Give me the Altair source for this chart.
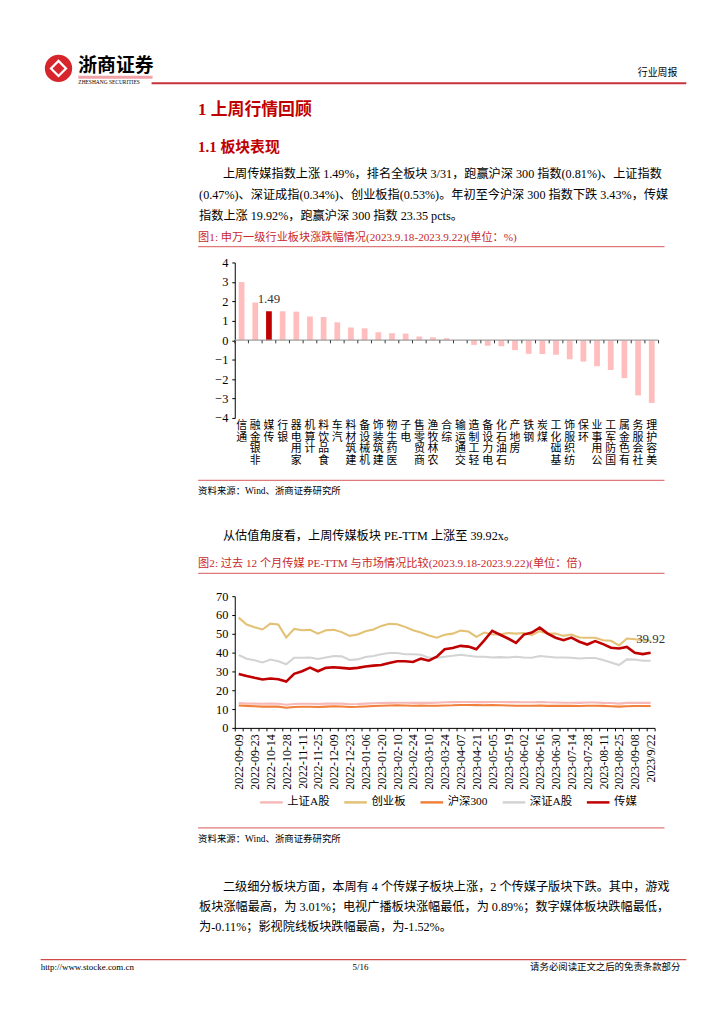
import altair as alt
import pandas as pd

# ------------------------------------------------------------------ data
bar_categories = ["通信", "非银金融", "传媒", "银行", "家用电器", "计算机", "食品饮料", "汽车",
                  "建筑材料", "机械设备", "建筑装饰", "医药生物", "电子", "商贸零售", "农林牧渔",
                  "综合", "交通运输", "轻工制造", "电力设备", "石油石化", "房地产", "钢铁", "煤炭",
                  "基础化工", "纺织服饰", "环保", "公用事业", "国防军工", "有色金属", "社会服务",
                  "美容护理"]
bar_values = [2.99, 1.94, 1.49, 1.49, 1.47, 1.22, 1.20, 0.92, 0.66, 0.61, 0.41, 0.36, 0.34,
              0.19, 0.15, 0.10, -0.01, -0.24, -0.29, -0.31, -0.51, -0.70, -0.71, -0.75, -0.98,
              -1.10, -1.34, -1.53, -1.95, -2.84, -3.23]
bar_highlight = "传媒"
bar_y_ticks = [-4, -3, -2, -1, 0, 1, 2, 3, 4]

dates = ["2022-09-09", "2022-09-16", "2022-09-23", "2022-09-30", "2022-10-14", "2022-10-21",
         "2022-10-28", "2022-11-04", "2022-11-11", "2022-11-18", "2022-11-25", "2022-12-02",
         "2022-12-09", "2022-12-16", "2022-12-23", "2022-12-30", "2023-01-06", "2023-01-13",
         "2023-01-20", "2023-02-03", "2023-02-10", "2023-02-17", "2023-02-24", "2023-03-03",
         "2023-03-10", "2023-03-17", "2023-03-24", "2023-03-31", "2023-04-07", "2023-04-14",
         "2023-04-21", "2023-04-28", "2023-05-05", "2023-05-12", "2023-05-19", "2023-05-26",
         "2023-06-02", "2023-06-09", "2023-06-16", "2023-06-21", "2023-06-30", "2023-07-07",
         "2023-07-14", "2023-07-21", "2023-07-28", "2023-08-04", "2023-08-11", "2023-08-18",
         "2023-08-25", "2023-09-01", "2023-09-08", "2023-09-15", "2023/9/22"]
tick_labels = dates[::2]

series_names = ["上证A股", "创业板", "沪深300", "深证A股", "传媒"]
series_colors = ["#F6B8B8", "#E3C175", "#F0803C", "#D3D3D3", "#C00000"]

sh_a = [13.2, 13.0, 12.9, 12.8, 12.9, 12.8, 12.3, 12.7, 12.8, 12.8, 12.7, 12.9, 13.0, 12.9,
        12.6, 12.7, 12.9, 13.1, 13.2, 13.3, 13.4, 13.4, 13.3, 13.4, 13.3, 13.4, 13.6, 13.7,
        13.8, 13.8, 13.7, 13.7, 13.8, 13.8, 13.7, 13.7, 13.6, 13.6, 13.8, 13.6, 13.5, 13.4,
        13.4, 13.3, 13.5, 13.5, 13.3, 13.2, 12.9, 13.3, 13.3, 13.3, 13.3]
chinext = [58.6, 54.9, 53.5, 52.3, 55.4, 54.9, 48.0, 52.6, 51.9, 52.1, 50.1, 51.9, 52.1, 50.9,
           48.9, 49.6, 51.4, 52.3, 54.2, 55.3, 55.1, 53.7, 51.9, 50.7, 49.1, 47.9, 49.5, 50.1,
           51.7, 51.2, 48.4, 50.7, 49.6, 49.8, 50.4, 50.1, 50.4, 49.3, 51.4, 50.1, 50.1, 48.9,
           49.6, 48.0, 47.9, 47.9, 46.6, 46.3, 43.8, 47.5, 47.1, 46.6, 46.3]
hs300 = [11.9, 11.7, 11.5, 11.3, 11.4, 11.3, 10.7, 11.1, 11.2, 11.2, 11.1, 11.3, 11.5, 11.4,
         11.1, 11.2, 11.4, 11.6, 11.8, 11.9, 12.0, 11.9, 11.8, 11.9, 11.8, 11.8, 11.9, 12.0,
         12.2, 12.2, 12.1, 12.0, 12.1, 12.0, 11.9, 11.8, 11.8, 11.8, 11.9, 11.7, 11.7, 11.7,
         11.8, 11.6, 11.8, 11.8, 11.7, 11.5, 11.3, 11.5, 11.6, 11.6, 11.6]
sz_a = [38.7, 36.8, 35.9, 34.8, 36.3, 35.4, 33.8, 37.3, 37.3, 37.4, 36.6, 37.4, 38.2, 38.0,
        36.1, 36.4, 37.7, 38.2, 39.1, 39.8, 39.8, 39.1, 39.1, 38.9, 37.3, 37.3, 37.8, 38.3,
        38.9, 38.3, 37.8, 37.8, 37.4, 37.6, 37.4, 37.8, 37.4, 37.3, 38.2, 37.8, 37.4, 37.4,
        37.3, 36.9, 37.1, 37.1, 36.1, 34.8, 33.4, 36.4, 36.3, 35.7, 35.7]
media = [28.7, 27.6, 26.6, 25.7, 26.2, 25.9, 24.6, 28.7, 30.1, 32.0, 30.1, 31.9, 32.2, 31.9,
         31.5, 31.9, 32.6, 33.1, 33.4, 34.5, 35.4, 35.4, 35.0, 36.8, 35.7, 37.8, 41.8, 42.5,
         43.6, 43.2, 41.8, 46.5, 51.6, 49.5, 47.5, 45.2, 49.6, 50.7, 53.3, 50.1, 47.9, 46.6,
         48.0, 45.8, 44.3, 46.1, 44.5, 42.6, 42.2, 43.0, 39.9, 39.2, 39.92]
series_values = [sh_a, chinext, hs300, sz_a, media]
line_y_ticks = [0, 10, 20, 30, 40, 50, 60, 70]

# page texts
brand = "浙商证券"
brand_en = "ZHESHANG SECURITIES"
report_type = "行业周报"
h1 = "1 上周行情回顾"
h2 = "1.1 板块表现"
para1 = ["上周传媒指数上涨 1.49%，排名全板块 3/31，跑赢沪深 300 指数(0.81%)、上证指数",
         "(0.47%)、深证成指(0.34%)、创业板指(0.53%)。年初至今沪深 300 指数下跌 3.43%，传媒",
         "指数上涨 19.92%，跑赢沪深 300 指数 23.35 pcts。"]
cap1 = "图1:   申万一级行业板块涨跌幅情况(2023.9.18-2023.9.22)(单位：%)"
source = "资料来源：Wind、浙商证券研究所"
para2 = ["从估值角度看，上周传媒板块 PE-TTM 上涨至 39.92x。"]
cap2 = "图2:   过去 12 个月传媒 PE-TTM 与市场情况比较(2023.9.18-2023.9.22)(单位：倍)"
para3 = ["二级细分板块方面，本周有 4 个传媒子板块上涨，2 个传媒子版块下跌。其中，游戏",
         "板块涨幅最高，为 3.01%；电视广播板块涨幅最低，为 0.89%；数字媒体板块跌幅最低，",
         "为-0.11%；影视院线板块跌幅最高，为-1.52%。"]
footer_url = "http://www.stocke.com.cn"
footer_page = "5/16"
footer_note = "请务必阅读正文之后的免责条款部分"

# ------------------------------------------------------------------ style
FONT = "Liberation Serif, Noto Sans CJK SC"
RED_H = "#C00000"
RED_CAP = "#C8282E"
BODY = 12.3
PAGE_W = 708

one = pd.DataFrame({"a": [0]})


def T(s, px, py, oy, size=BODY, color="#000000", align="left", weight="normal"):
    return alt.Chart(one).mark_text(
        text=s, align=align, baseline="middle", fontSize=size, color=color,
        fontWeight=weight, font=FONT
    ).encode(x=alt.value(px - 8), y=alt.value(py - oy))


def R(px1, px2, py, oy, color, w=1.0):
    return alt.Chart(one).mark_rule(color=color, strokeWidth=w).encode(
        x=alt.value(px1 - 8), x2=alt.value(px2 - 8), y=alt.value(py - oy))


def spacer(w, h):
    return alt.Chart(one).mark_point(opacity=0).encode(
        x=alt.value(0), y=alt.value(0)).properties(width=w, height=h)


# row heights (page y): A 8..257, B 257..414, C 414..594, D 594..727, E 727..1016
HA, HB, HC, HD, HE = 249, 157, 180, 133, 289
BAR_LEFT, LINE_LEFT = 222, 226
BW, LW = 428, 424

# ------------------------------------------------------------------ row A
oyA = 8
rowA = alt.layer(
    alt.Chart(one).mark_point(filled=True, color="#D6262C", size=760, opacity=1).encode(
        x=alt.value(56 - 8), y=alt.value(61 - oyA)),
    alt.Chart(one).mark_point(filled=False, color="#FFFFFF", size=230, strokeWidth=2.2,
                              shape="diamond", opacity=1).encode(
        x=alt.value(56 - 8), y=alt.value(61 - oyA)),
    T(brand, 76, 59, oyA, size=19, weight="bold"),
    R(76, 151, 70, oyA, "#F2A3A8", 3),
    T(brand_en, 76, 75, oyA, size=5.5),
    R(150, 690, 76, oyA, "#C8323A", 1.8),
    T(report_type, 681, 66, oyA, size=10, align="right"),
    T(h1, 197, 103, oyA, size=17, color=RED_H, weight="bold"),
    T(h2, 197, 140, oyA, size=15, color=RED_H, weight="bold"),
    T(para1[0], 222, 168, oyA),
    T(para1[1], 198, 189, oyA),
    T(para1[2], 198, 210, oyA),
    T(cap1, 197, 232, oyA, size=11.3, color=RED_CAP),
    R(197, 668, 241, oyA, "#E07A7A", 1.2),
).properties(width=BAR_LEFT, height=HA)

# ------------------------------------------------------------------ row B : bar chart
bar_df = pd.DataFrame({"行业": bar_categories, "涨跌幅": bar_values})
zero_df = pd.DataFrame({"涨跌幅": [0]})
btick_df = pd.DataFrame({"k": list(range(len(bar_categories) + 1))})

xb_scale = alt.Scale(paddingInner=0.58, paddingOuter=0.29)
yb_scale = alt.Scale(domain=[-4, 4], nice=False)
xb_axis = alt.Axis(title=None, domain=False, ticks=False, labelAngle=0,
                   labelAlign="center", labelBaseline="top", labelPadding=2,
                   labelFontSize=11, labelLineHeight=11.6, labelFont=FONT,
                   labelColor="#000000", labelOverlap=False,
                   labelExpr="reverse(split(datum.label, ''))")
yb_axis = alt.Axis(title=None, values=bar_y_ticks, tickCount=9, grid=False,
                   domainColor="#000000", tickColor="#000000", tickSize=3, labelPadding=4,
                   labelFontSize=12.5, labelFont="Liberation Serif", labelColor="#000000",
                   labelOverlap=False, labelFlush=False)
XB = alt.X("行业:N", sort=bar_categories, scale=xb_scale, axis=xb_axis)
YB = alt.Y("涨跌幅:Q", scale=yb_scale, axis=yb_axis)

bars = alt.Chart(bar_df).mark_bar().encode(
    x=XB, y=YB,
    color=alt.condition(alt.datum["行业"] == bar_highlight, alt.value("#C00000"),
                        alt.value("#FFBDBD")),
)
zero_line = alt.Chart(zero_df).mark_rule(color="#A0A0A0", strokeWidth=1.2).encode(
    y=YB, x=alt.value(0), x2=alt.value(BW))
bar_label = alt.Chart(bar_df).transform_filter(
    alt.datum["行业"] == bar_highlight
).mark_text(dy=-12, fontSize=13, font=FONT, color="#333333").encode(
    x=XB, y=YB, text=alt.Text("涨跌幅:Q", format=".2f"),
)
bticks = alt.Chart(btick_df).mark_rule(color="#333333", strokeWidth=1).encode(
    x=alt.X("k:Q", scale=alt.Scale(domain=[0, len(bar_categories)], nice=False), axis=None),
    y=alt.Y(datum=0, scale=yb_scale, axis=yb_axis), y2=alt.Y2(datum=-0.16))
bar_chart = alt.layer(alt.layer(bars, zero_line, bar_label), bticks).resolve_scale(
    x="independent").properties(width=BW, height=HB)

# ------------------------------------------------------------------ row C
oyC = 414
rowC = alt.layer(
    R(197, 668, 477, oyC, "#E07A7A", 1.2),
    T(source, 197, 488, oyC, size=9.5),
    T(para2[0], 222, 533, oyC),
    T(cap2, 197, 562, oyC, size=11.3, color=RED_CAP),
    R(197, 668, 571, oyC, "#E07A7A", 1.2),
).properties(width=BAR_LEFT, height=HC)

# ------------------------------------------------------------------ row D : line chart
rows = []
for name, vals in zip(series_names, series_values):
    for d, v in zip(dates, vals):
        rows.append({"日期": d, "系列": name, "PE": v})
ldf = pd.DataFrame(rows)

label_list = "[" + ",".join("'" + s + "'" for s in tick_labels) + "]"
xl_scale = alt.Scale(type="band", paddingInner=0, paddingOuter=0)
yl_scale = alt.Scale(domain=[0, 70], nice=False)
xl_axis = alt.Axis(title=None, tickBand="extent", labelAngle=-90, labelAlign="right",
                   labelBaseline="middle", labelOverlap=False, tickSize=3,
                   labelPadding=3, domainColor="#000000", tickColor="#000000",
                   labelFontSize=12, labelFont="Liberation Serif", labelColor="#000000",
                   labelExpr="indexof(" + label_list + ", datum.value) >= 0 ? datum.label : ''")
yl_axis = alt.Axis(title=None, values=line_y_ticks, tickCount=8, grid=False, tickSize=3,
                   labelPadding=4, domainColor="#000000", tickColor="#000000",
                   labelFontSize=12.5, labelFont="Liberation Serif", labelColor="#000000",
                   labelOverlap=False, labelFlush=False)
XL = alt.X("日期:N", sort=dates, bandPosition=0.5, scale=xl_scale, axis=xl_axis)
YL = alt.Y("PE:Q", scale=yl_scale, axis=yl_axis)

lines = alt.Chart(ldf).mark_line().encode(
    x=XL, y=YL,
    color=alt.Color("系列:N", sort=series_names,
                    scale=alt.Scale(domain=series_names, range=series_colors),
                    legend=alt.Legend(title=None, orient="none", legendX=250, legendY=781,
                                      direction="horizontal", symbolType="stroke",
                                      symbolStrokeWidth=2.5, symbolSize=520,
                                      labelFontSize=11.5, labelFont=FONT, labelColor="#000000",
                                      columnPadding=9, labelOffset=3)),
    strokeWidth=alt.condition(alt.datum["系列"] == "传媒", alt.value(2.6), alt.value(2.1)),
)
end_label = alt.Chart(ldf).transform_filter(
    (alt.datum["系列"] == "传媒") & (alt.datum["日期"] == dates[-1])
).mark_text(dy=-14, fontSize=13, font=FONT, color="#333333").encode(
    x=XL, y=YL, text=alt.Text("PE:Q", format=".2f"))
line_chart = alt.layer(lines, end_label).properties(width=LW, height=HD)

# ------------------------------------------------------------------ row E
oyE = 727
rowE = alt.layer(
    R(197, 668, 828, oyE, "#E07A7A", 1.2),
    T(source, 197, 839, oyE, size=9.5),
    T(para3[0], 222, 888, oyE),
    T(para3[1], 198, 908, oyE),
    T(para3[2], 198, 928, oyE),
    R(38, 690, 961, oyE, "#D04848", 1.2),
    T(footer_url, 38, 969, oyE, size=9),
    T(footer_page, 361, 969, oyE, size=9, align="center"),
    T(footer_note, 684, 969, oyE, size=9.5, align="right"),
).properties(width=BAR_LEFT, height=HE)

cells = [
    rowA, spacer(BW, HA), spacer(PAGE_W - BAR_LEFT - BW, HA),
    spacer(BAR_LEFT, HB), bar_chart, spacer(PAGE_W - BAR_LEFT - BW, HB),
    rowC, spacer(BW, HC), spacer(PAGE_W - BAR_LEFT - BW, HC),
    spacer(LINE_LEFT, HD), line_chart, spacer(PAGE_W - LINE_LEFT - LW, HD),
    rowE, spacer(BW, HE), spacer(PAGE_W - BAR_LEFT - BW, HE),
]

chart = alt.concat(*cells, columns=3, spacing=0, bounds="flush",
                   align={"row": "each", "column": "none"}).properties(
    padding=0, background="#FFFFFF"
).configure_view(strokeWidth=0)

chart.save("out.html", embed_options={"renderer": "svg", "actions": False})
